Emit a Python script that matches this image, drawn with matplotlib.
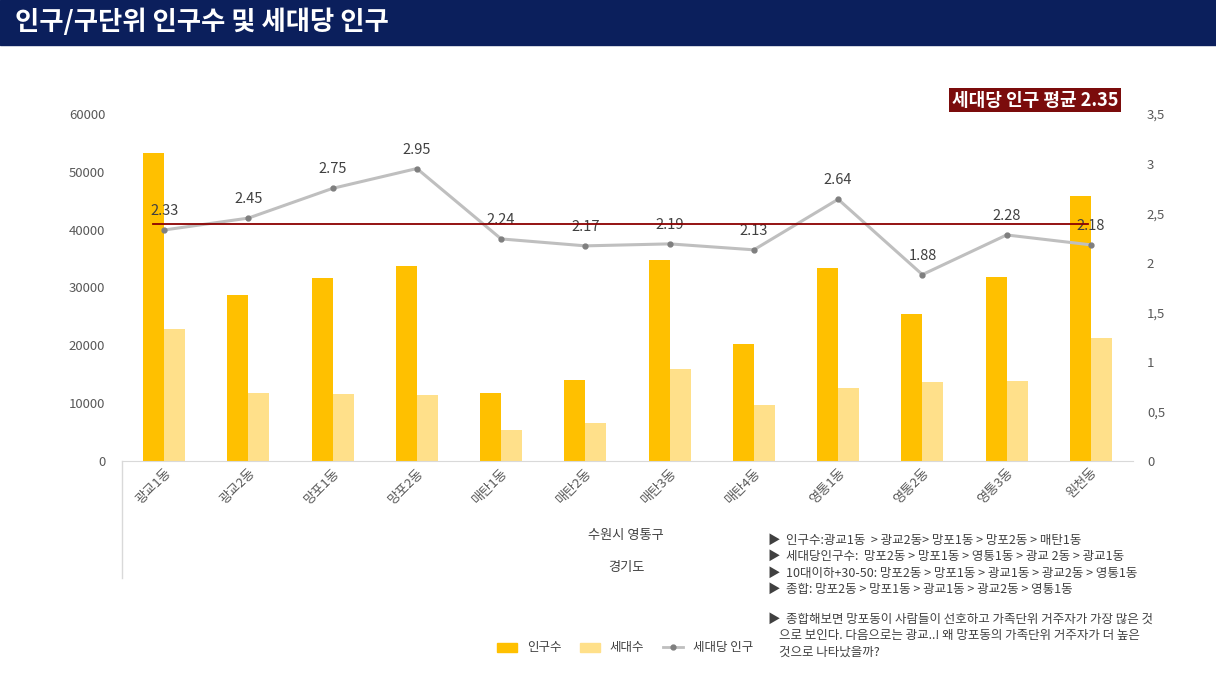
import numpy as np
from matplotlib import pyplot as plt
from matplotlib.lines import Line2D
from matplotlib.ticker import FuncFormatter

plt.rcParams['font.family'] = ['Noto Sans CJK KR', 'DejaVu Sans']

dongs = ['광교1동', '광교2동', '망포1동', '망포2동', '매탄1동', '매탄2동',
         '매탄3동', '매탄4동', '영통1동', '영통2동', '영통3동', '원천동']
population = [53200, 28700, 31700, 33700, 11800, 14000, 34700, 20300, 33400, 25400, 31800, 45800]
households = [22900, 11700, 11600, 11400, 5400, 6500, 15900, 9700, 12600, 13600, 13900, 21300]
per_household = [2.33, 2.45, 2.75, 2.95, 2.24, 2.17, 2.19, 2.13, 2.64, 1.88, 2.28, 2.18]
avg_line = 2.39

notes = [
    '▶  인구수:광교1동  > 광교2동> 망포1동 > 망포2동 > 매탄1동',
    '▶  세대당인구수:  망포2동 > 망포1동 > 영통1동 > 광교 2동 > 광교1동',
    '▶  10대이하+30-50: 망포2동 > 망포1동 > 광교1동 > 광교2동 > 영통1동',
    '▶  종합: 망포2동 > 망포1동 > 광교1동 > 광교2동 > 영통1동',
]
note2 = ('▶  종합해보면 망포동이 사람들이 선호하고 가족단위 거주자가 가장 많은 것\n'
         '    으로 보인다. 다음으로는 광교..! 왜 망포동의 가족단위 거주자가 더 높은\n'
         '    것으로 나타났을까?')

gold = '#FFC000'
light = '#FFE08A'
grey = '#595959'

fig = plt.figure(figsize=(12.16, 6.84), dpi=100)
fig.patches.append(plt.Rectangle((0, 1 - 45 / 684), 1, 45 / 684, transform=fig.transFigure,
                                 color='#0B1F5C', zorder=0))
fig.text(0.012, 1 - 22 / 684, '인구/구단위 인구수 및 세대당 인구', color='white',
         fontsize=19, fontweight='bold', va='center')

ax = fig.add_axes([122 / 1216, 1 - 461 / 684, 1011 / 1216, 347 / 684])
x = np.arange(len(dongs))
ax.bar(x - 0.125, population, 0.25, color=gold, zorder=2)
ax.bar(x + 0.125, households, 0.25, color=light, zorder=2)
ax.set_xlim(-0.5, len(dongs) - 0.5)
ax.set_ylim(0, 60000)
ax.set_yticks(range(0, 60001, 10000))
ax.set_xticks(x)
ax.set_xticklabels(dongs, rotation=45, ha='right', rotation_mode='anchor', fontsize=9, color=grey)
ax.tick_params(axis='both', length=0, colors=grey, labelsize=9.5)
ax.tick_params(axis='y', pad=12)
for s in ['top', 'right', 'left']:
    ax.spines[s].set_visible(False)
ax.spines['bottom'].set_color('#D9D9D9')

ax2 = ax.twinx()
ax2.plot(x, per_household, color='#BFBFBF', lw=2.2, marker='o', ms=3.5,
         mfc='#7F7F7F', mec='#7F7F7F', zorder=3)
for xi, v in zip(x, per_household):
    ax2.text(xi, v + 0.12, f'{v:.2f}', ha='center', va='bottom', fontsize=10.5, color='#404040')
ax2.plot([-0.13, len(dongs) - 1 - 0.03], [avg_line, avg_line], color='#8B0000', lw=1.3, zorder=4)
ax2.set_ylim(0, 3.5)
ax2.set_yticks(np.arange(0, 3.51, 0.5))
ax2.yaxis.set_major_formatter(FuncFormatter(lambda v, p: f'{v:g}'.replace('.', ',')))
ax2.tick_params(length=0, colors=grey, labelsize=9.5, pad=10)
for s in ['top', 'right', 'left', 'bottom']:
    ax2.spines[s].set_visible(False)

fig.add_artist(Line2D([122 / 1216, 122 / 1216], [1 - 578 / 684, 1 - 461 / 684], color='#D9D9D9', lw=1))
fig.text(626 / 1216, 1 - 536 / 684, '수원시 영통구', ha='center', va='center', fontsize=9.5, color='#404040')
fig.text(626 / 1216, 1 - 567 / 684, '경기도', ha='center', va='center', fontsize=9.5, color='#404040')

fig.text(1118 / 1216, 1 - 100 / 684, '세대당 인구 평균 2.35', ha='right', va='center', fontsize=13,
         fontweight='bold', color='white',
         bbox=dict(facecolor='#7B0C0C', edgecolor='none', pad=2))

for i, t in enumerate(notes):
    fig.text(768 / 1216, 1 - (540 + i * 16.5) / 684, t, fontsize=9, color='#404040', va='center')
fig.text(768 / 1216, 1 - 613 / 684, note2, fontsize=9, color='#404040', va='top', linespacing=1.35)

handles = [plt.Rectangle((0, 0), 1, 1, color=gold), plt.Rectangle((0, 0), 1, 1, color=light),
           Line2D([], [], color='#BFBFBF', lw=2, marker='o', ms=3.5, mfc='#7F7F7F', mec='#7F7F7F')]
fig.legend(handles, ['인구수', '세대수', '세대당 인구'], loc='center', bbox_to_anchor=(625 / 1216, 1 - 648 / 684),
           ncol=3, frameon=False, fontsize=9, handlelength=1.6, columnspacing=1.5,
           labelcolor='#404040')

fig.savefig('out.png', dpi=100)
